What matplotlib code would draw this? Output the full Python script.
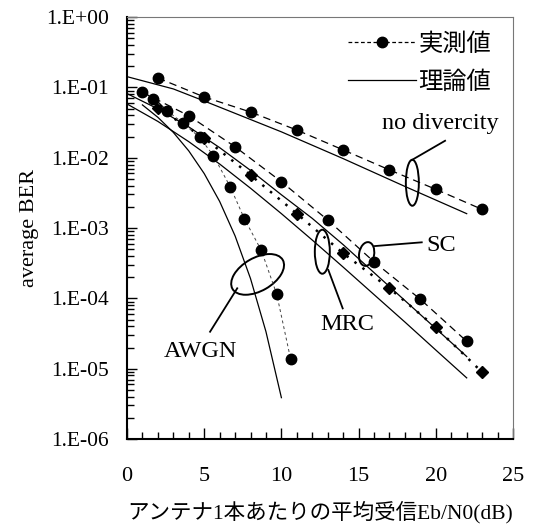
import numpy as np
import matplotlib
matplotlib.use("Agg")
import matplotlib.pyplot as plt
import matplotlib.transforms as mtransforms
from matplotlib.patches import Ellipse
from matplotlib.lines import Line2D
from matplotlib.ticker import FuncFormatter, MultipleLocator, LogLocator

plt.rcParams['font.family'] = ['Liberation Serif', 'Noto Sans CJK JP']

# measured values (markers)
nodiv_x = [2, 5, 8, 11, 14, 17, 20, 23]
nodiv_y = [0.136, 0.073, 0.0446, 0.0247, 0.0129, 0.0067, 0.00355, 0.00184]
sc_x = [1, 4, 7, 10, 13, 16, 19, 22]
sc_y = [0.085, 0.0395, 0.0143, 0.00455, 0.0013, 0.00033, 9.7e-5, 2.45e-5]
mrc_x = [2, 5, 8, 11, 14, 17, 20, 23]
mrc_y = [0.051, 0.019, 0.00566, 0.0016, 0.000437, 0.000139, 3.87e-5, 8.9e-6]
awgn_x = [1.7, 2.6, 3.6, 4.7, 5.6, 6.7, 7.6, 8.7, 9.7, 10.6]
awgn_y = [0.0676, 0.0465, 0.0314, 0.0195, 0.0107, 0.0038, 0.00136, 0.00048, 0.000114, 1.36e-5]

# theory curves (solid)
th_nodiv_x = [0, 3, 5, 10, 14, 18, 22]
th_nodiv_y = [0.142, 0.095, 0.064, 0.0233, 0.0097, 0.0039, 0.0016]
th_sc_x = [0, 2, 4, 6, 8, 10, 12, 14, 16, 18, 20, 22]
th_sc_y = [0.0816, 0.0495, 0.0274, 0.0139, 0.0066, 0.00297, 0.00137, 0.00058,
           0.000232, 9.3e-5, 3.72e-5, 1.49e-5]
th_mrc_x = [0, 2, 4, 6, 8, 10, 12, 14, 16, 18, 20, 22]
th_mrc_y = [0.0581, 0.0328, 0.0169, 0.00813, 0.00368, 0.0016, 0.000674, 0.000278,
            0.000113, 4.6e-5, 1.84e-5, 7.4e-6]
th_awgn_x = [1, 2, 3, 4, 5, 6, 7, 8, 9, 10]
th_awgn_y = [0.0563, 0.0375, 0.0229, 0.0125, 0.00595, 0.00239, 0.000773, 0.000191,
             3.36e-5, 3.87e-6]

fig = plt.figure(figsize=(5.34, 5.32), dpi=100)
ax = fig.add_axes([0.2378, 0.1748, 0.7229, 0.7932])

lw_th = 0.9
ax.plot(th_nodiv_x, th_nodiv_y, color='black', lw=lw_th)
ax.plot(th_sc_x, th_sc_y, color='black', lw=lw_th)
ax.plot(th_mrc_x, th_mrc_y, color='black', lw=lw_th)
ax.plot(th_awgn_x, th_awgn_y, color='black', lw=lw_th)

dash = (0, (6, 4))
ax.plot(nodiv_x, nodiv_y, color='black', lw=0.9, ls=dash, marker='o', ms=7.5)
ax.plot(sc_x, sc_y, color='black', lw=0.9, ls=dash, marker='o', ms=7.5)
ax.plot(mrc_x, mrc_y, color='black', lw=1.8, ls=(0, (1, 3)), marker='D', ms=6.5)
ax.plot(awgn_x, awgn_y, color='#444444', lw=0.7, ls=(0, (3, 3)), marker='o',
        ms=7.5, mfc='black', mec='black')

ax.set_yscale('log')
ax.set_xlim(0, 25)
ax.set_ylim(1e-6, 1)

ax.yaxis.set_major_locator(LogLocator(base=10, numticks=10))
ax.yaxis.set_minor_locator(LogLocator(base=10, subs=np.arange(2, 10), numticks=10))
ax.yaxis.set_major_formatter(FuncFormatter(lambda v, p: '1.E%+03d' % round(np.log10(v))))
ax.xaxis.set_major_locator(MultipleLocator(5))
ax.xaxis.set_minor_locator(MultipleLocator(1))

ax.tick_params(axis='x', which='both', direction='in', top=False, labelsize=16, pad=20)
ax.tick_params(axis='x', which='major', length=8, width=1)
ax.tick_params(axis='x', which='minor', length=5, width=1)
ax.tick_params(axis='y', which='both', direction='in', right=False, labelsize=15.5, pad=13)
ax.tick_params(axis='y', which='major', length=7, width=1)
ax.tick_params(axis='y', which='minor', length=5, width=1)

for s in ['left', 'bottom']:
    ax.spines[s].set_linewidth(1.5)
for s in ['top', 'right']:
    ax.spines[s].set_linewidth(0.8)
    ax.spines[s].set_color('#777777')

ax.set_ylabel('average BER', fontsize=16, labelpad=5)
ax.set_xlabel('アンテナ1本あたりの平均受信Eb/N0(dB)', fontsize=15.5, labelpad=11)


def ellipse(cx, cy, w, h, angle=0):
    tr = mtransforms.Affine2D() + mtransforms.ScaledTranslation(cx, cy, ax.transData)
    ax.add_patch(Ellipse((0, 0), w, h, angle=angle, fill=False, ec='black',
                         lw=1.4, transform=tr, clip_on=False))


ellipse(18.48, 0.0044, 13, 46)
ax.plot([18.45, 20.6], [0.00927, 0.0174], color='black', lw=1.3)
ax.text(20.3, 0.0311, 'no divercity', fontsize=17.5, ha='center', va='center')

ellipse(15.52, 4.27e-4, 15, 24, angle=-10)
ax.plot([16.06, 19.09], [5.54e-4, 6.26e-4], color='black', lw=1.3)
ax.text(19.4, 5.73e-4, 'SC', fontsize=17.5, ha='left', va='center')

ellipse(12.65, 4.6e-4, 15, 44)
ax.plot([13.04, 13.97], [2.53e-4, 7.2e-5], color='black', lw=1.3)
ax.text(14.25, 4.18e-5, 'MRC', fontsize=17.5, ha='center', va='center')

ellipse(8.46, 2.19e-4, 58, 33, angle=30)
ax.plot([7.14, 5.38], [1.39e-4, 3.35e-5], color='black', lw=1.3)
ax.text(4.76, 1.74e-5, 'AWGN', fontsize=17.5, ha='center', va='center')

handles = [Line2D([], [], color='black', lw=0.9, ls=(0, (3, 2)), marker='o', ms=7.5),
           Line2D([], [], color='black', lw=0.9)]
ax.legend(handles, ['実測値', '理論値'], loc='upper right', bbox_to_anchor=(1.0, 1.02),
          frameon=False, numpoints=1, handlelength=2.8,
          handletextpad=0.1, labelspacing=0.5, prop={'family': ['Noto Sans CJK JP'], 'size': 17.5})

fig.savefig('out.png', dpi=100)
